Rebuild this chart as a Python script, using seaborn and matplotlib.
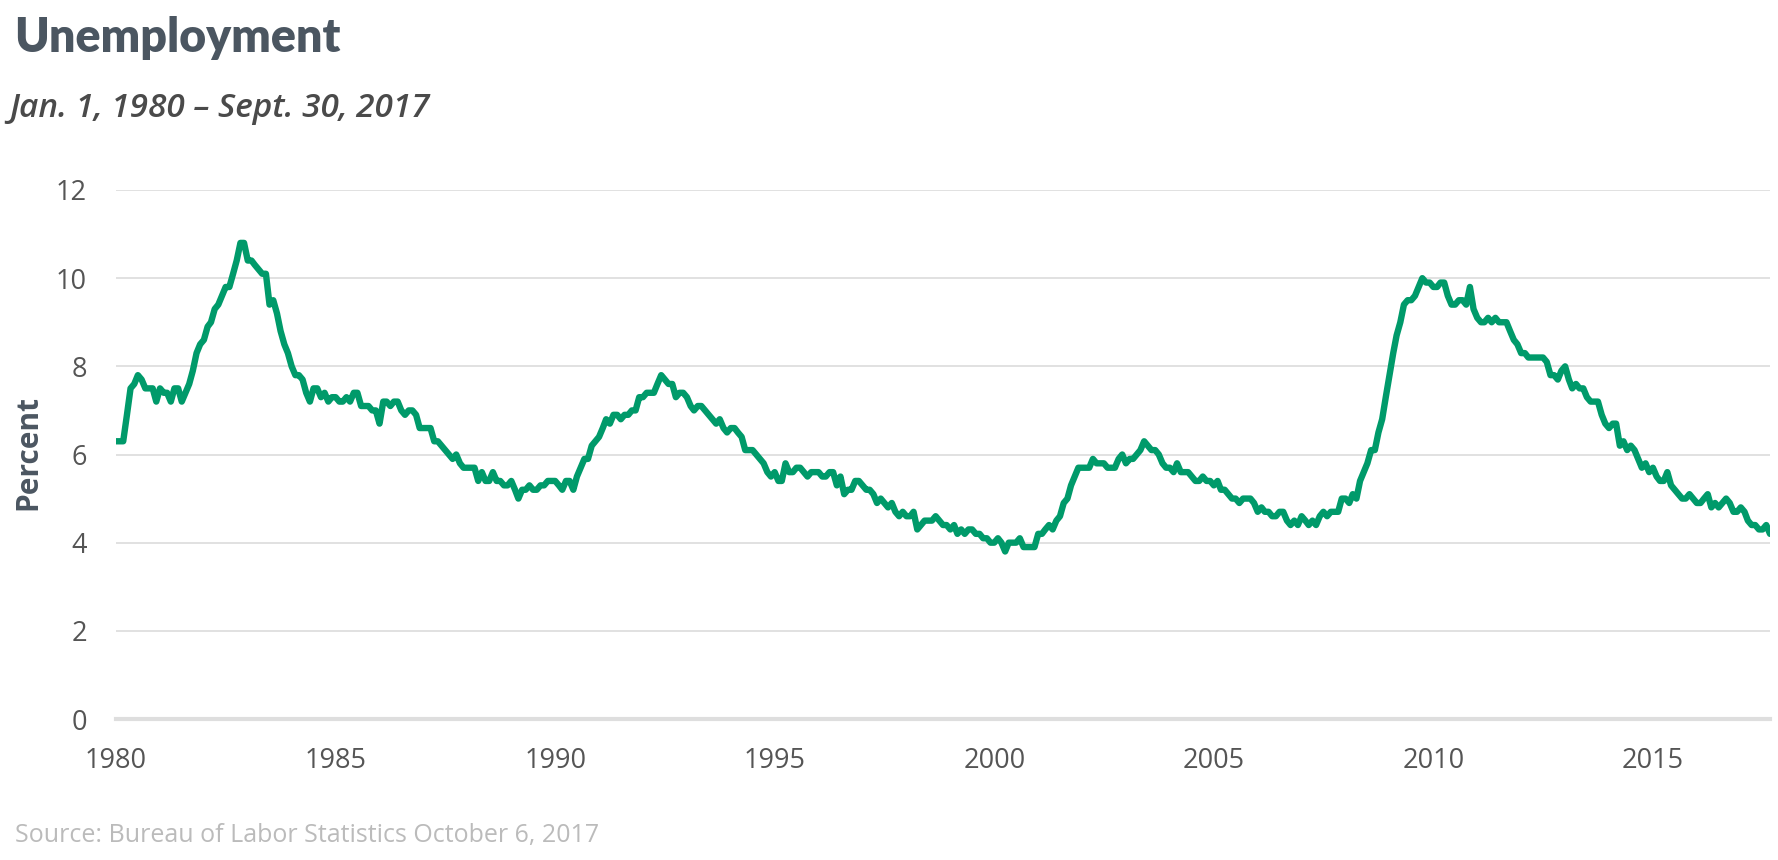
import numpy as np
import pandas as pd
import matplotlib
matplotlib.use("Agg")
import matplotlib.pyplot as plt
import matplotlib.dates as mdates
import seaborn as sns

# Monthly unemployment rate (%), seasonally adjusted
start_month = "1980-01-01"
rates_1980s = [
    6.3, 6.3, 6.3, 6.9, 7.5, 7.6, 7.8, 7.7, 7.5, 7.5, 7.5, 7.2,
    7.5, 7.4, 7.4, 7.2, 7.5, 7.5, 7.2, 7.4, 7.6, 7.9, 8.3, 8.5,
    8.6, 8.9, 9.0, 9.3, 9.4, 9.6, 9.8, 9.8, 10.1, 10.4, 10.8, 10.8,
    10.4, 10.4, 10.3, 10.2, 10.1, 10.1, 9.4, 9.5, 9.2, 8.8, 8.5, 8.3,
    8.0, 7.8, 7.8, 7.7, 7.4, 7.2, 7.5, 7.5, 7.3, 7.4, 7.2, 7.3,
    7.3, 7.2, 7.2, 7.3, 7.2, 7.4, 7.4, 7.1, 7.1, 7.1, 7.0, 7.0,
    6.7, 7.2, 7.2, 7.1, 7.2, 7.2, 7.0, 6.9, 7.0, 7.0, 6.9, 6.6,
    6.6, 6.6, 6.6, 6.3, 6.3, 6.2, 6.1, 6.0, 5.9, 6.0, 5.8, 5.7,
    5.7, 5.7, 5.7, 5.4, 5.6, 5.4, 5.4, 5.6, 5.4, 5.4, 5.3, 5.3,
    5.4, 5.2, 5.0, 5.2, 5.2, 5.3, 5.2, 5.2, 5.3, 5.3, 5.4, 5.4,
]
rates_1990s = [
    5.4, 5.3, 5.2, 5.4, 5.4, 5.2, 5.5, 5.7, 5.9, 5.9, 6.2, 6.3,
    6.4, 6.6, 6.8, 6.7, 6.9, 6.9, 6.8, 6.9, 6.9, 7.0, 7.0, 7.3,
    7.3, 7.4, 7.4, 7.4, 7.6, 7.8, 7.7, 7.6, 7.6, 7.3, 7.4, 7.4,
    7.3, 7.1, 7.0, 7.1, 7.1, 7.0, 6.9, 6.8, 6.7, 6.8, 6.6, 6.5,
    6.6, 6.6, 6.5, 6.4, 6.1, 6.1, 6.1, 6.0, 5.9, 5.8, 5.6, 5.5,
    5.6, 5.4, 5.4, 5.8, 5.6, 5.6, 5.7, 5.7, 5.6, 5.5, 5.6, 5.6,
    5.6, 5.5, 5.5, 5.6, 5.6, 5.3, 5.5, 5.1, 5.2, 5.2, 5.4, 5.4,
    5.3, 5.2, 5.2, 5.1, 4.9, 5.0, 4.9, 4.8, 4.9, 4.7, 4.6, 4.7,
    4.6, 4.6, 4.7, 4.3, 4.4, 4.5, 4.5, 4.5, 4.6, 4.5, 4.4, 4.4,
    4.3, 4.4, 4.2, 4.3, 4.2, 4.3, 4.3, 4.2, 4.2, 4.1, 4.1, 4.0,
]
rates_2000s = [
    4.0, 4.1, 4.0, 3.8, 4.0, 4.0, 4.0, 4.1, 3.9, 3.9, 3.9, 3.9,
    4.2, 4.2, 4.3, 4.4, 4.3, 4.5, 4.6, 4.9, 5.0, 5.3, 5.5, 5.7,
    5.7, 5.7, 5.7, 5.9, 5.8, 5.8, 5.8, 5.7, 5.7, 5.7, 5.9, 6.0,
    5.8, 5.9, 5.9, 6.0, 6.1, 6.3, 6.2, 6.1, 6.1, 6.0, 5.8, 5.7,
    5.7, 5.6, 5.8, 5.6, 5.6, 5.6, 5.5, 5.4, 5.4, 5.5, 5.4, 5.4,
    5.3, 5.4, 5.2, 5.2, 5.1, 5.0, 5.0, 4.9, 5.0, 5.0, 5.0, 4.9,
    4.7, 4.8, 4.7, 4.7, 4.6, 4.6, 4.7, 4.7, 4.5, 4.4, 4.5, 4.4,
    4.6, 4.5, 4.4, 4.5, 4.4, 4.6, 4.7, 4.6, 4.7, 4.7, 4.7, 5.0,
    5.0, 4.9, 5.1, 5.0, 5.4, 5.6, 5.8, 6.1, 6.1, 6.5, 6.8, 7.3,
    7.8, 8.3, 8.7, 9.0, 9.4, 9.5, 9.5, 9.6, 9.8, 10.0, 9.9, 9.9,
]
rates_2010s = [
    9.8, 9.8, 9.9, 9.9, 9.6, 9.4, 9.4, 9.5, 9.5, 9.4, 9.8, 9.3,
    9.1, 9.0, 9.0, 9.1, 9.0, 9.1, 9.0, 9.0, 9.0, 8.8, 8.6, 8.5,
    8.3, 8.3, 8.2, 8.2, 8.2, 8.2, 8.2, 8.1, 7.8, 7.8, 7.7, 7.9,
    8.0, 7.7, 7.5, 7.6, 7.5, 7.5, 7.3, 7.2, 7.2, 7.2, 6.9, 6.7,
    6.6, 6.7, 6.7, 6.2, 6.3, 6.1, 6.2, 6.1, 5.9, 5.7, 5.8, 5.6,
    5.7, 5.5, 5.4, 5.4, 5.6, 5.3, 5.2, 5.1, 5.0, 5.0, 5.1, 5.0,
    4.9, 4.9, 5.0, 5.1, 4.8, 4.9, 4.8, 4.9, 5.0, 4.9, 4.7, 4.7,
    4.8, 4.7, 4.5, 4.4, 4.4, 4.3, 4.3, 4.4, 4.2,
]
y_ticks = [0, 2, 4, 6, 8, 10, 12]

title_text = "Unemployment"
subtitle_text = "Jan. 1, 1980 \u2013 Sept. 30, 2017"
ylabel_text = "Percent"
source_text = "Source: Bureau of Labor Statistics October 6, 2017"

rates = rates_1980s + rates_1990s + rates_2000s + rates_2010s
dates = pd.date_range(start_month, periods=len(rates), freq="MS")
df = pd.DataFrame({"date": dates, "rate": rates})

sns.set_theme(style="white")
plt.rcParams["font.family"] = ["Open Sans", "DejaVu Sans"]

W, H = 1778, 860
fig = plt.figure(figsize=(W / 100, H / 100), dpi=100)
ax = fig.add_axes([116 / W, 1 - 719 / H, (1770 - 116) / W, (719 - 190) / H])

GREEN = "#009a6a"
GRID = "#dedede"
TICKC = "#555555"
DARK = "#4b5661"

for yv in y_ticks[1:]:
    ax.axhline(yv, color=GRID, lw=1.3, zorder=1)

sns.lineplot(data=df, x="date", y="rate", ax=ax, color=GREEN, linewidth=4.6,
             zorder=3, solid_joinstyle="round", solid_capstyle="round")

ax.set_ylim(0, 12)
ax.set_xlim(dates[0], dates[-1])
ax.set_yticks(y_ticks)
ax.set_yticklabels([str(v) for v in y_ticks], fontsize=19.5, color=TICKC)
ax.tick_params(axis="y", length=0, pad=21)

ax.xaxis.set_major_locator(mdates.YearLocator(5))
ax.xaxis.set_minor_locator(mdates.YearLocator(1))
ax.xaxis.set_major_formatter(mdates.DateFormatter("%Y"))
ax.tick_params(axis="x", which="major", length=10, width=2.4, color=GRID,
               labelsize=19.5, labelcolor=TICKC, pad=10, direction="out")
ax.tick_params(axis="x", which="minor", length=8, width=2.4, color=GRID,
               direction="out")

for s in ["left", "right", "top"]:
    ax.spines[s].set_visible(False)
ax.spines["bottom"].set_color(GRID)
ax.spines["bottom"].set_linewidth(3)
ax.spines["bottom"].set_zorder(2)
ax.set_xlabel("")
ax.set_ylabel("")

fig.text(14 / W, 1 - 52 / H, title_text, fontsize=33.5, fontweight="heavy",
         family=["Lato", "DejaVu Sans"], color=DARK, va="baseline", ha="left")
fig.text(9 / W, 1 - 117 / H, subtitle_text, fontsize=24, fontstyle="italic",
         fontweight="semibold", color="#4a4a4a", va="baseline", ha="left")
fig.text(28 / W, 1 - 452 / H, ylabel_text, fontsize=21.5, fontweight="bold",
         color=DARK, rotation=90, va="center", ha="center")
fig.text(15 / W, 1 - 842 / H, source_text, fontsize=18, color="#bbbbbb",
         va="baseline", ha="left")

fig.savefig("out.png", dpi=100, facecolor="white")
